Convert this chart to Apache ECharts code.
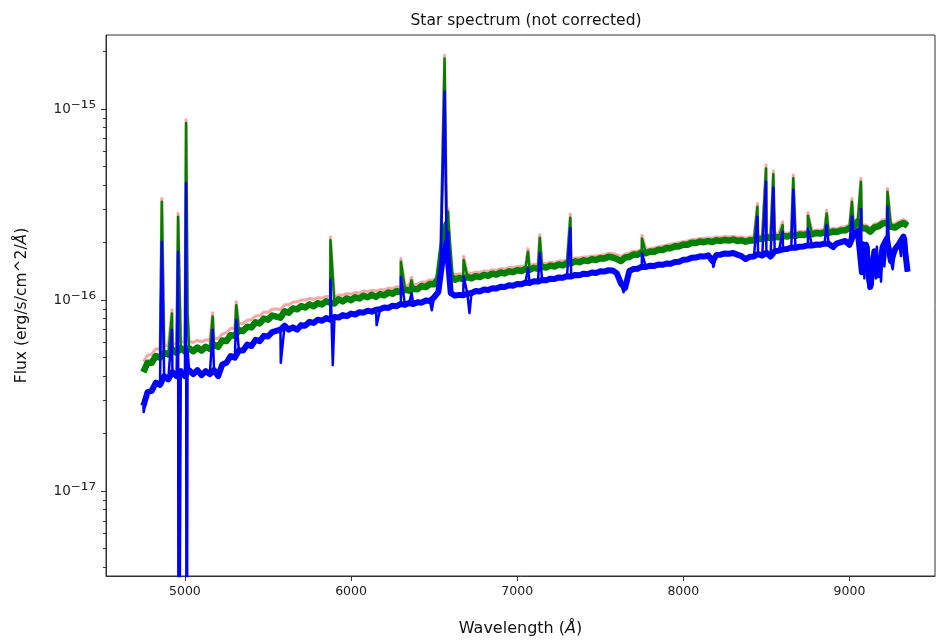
<!DOCTYPE html>
<html>
<head>
<meta charset="utf-8">
<script src="https://cdn.jsdelivr.net/npm/echarts@6/dist/echarts.min.js"></script>
<style>html,body{margin:0;padding:0;background:#fff}#c{width:937px;height:644px}</style>
</head>
<body>
<div id="c"></div>
<script>
// ---- data (flux in units of 1e-16 erg/s/cm^2/Å) ----
const UNIT = 1e-16;
const WL_START = 4750, WL_STEP = 25;   // sampling grid of the continuum arrays

const greenFlux = [
0.42,0.47,0.47,0.51,0.50,0.53,0.52,0.55,0.53,0.56,
0.54,0.56,0.54,0.565,0.545,0.57,0.555,0.585,0.57,0.615,
0.61,0.655,0.65,0.695,0.69,0.725,0.72,0.765,0.755,0.80,
0.79,0.83,0.82,0.81,0.875,0.86,0.905,0.895,0.93,0.915,
0.95,0.93,0.965,0.95,0.985,0.97,0.96,1.01,0.985,1.02,
1.00,1.035,1.02,1.055,1.035,1.065,1.04,1.075,1.06,1.095,
1.08,1.115,1.10,1.135,1.12,1.145,1.14,1.185,1.17,1.215,
1.21,1.29,1.90,2.50,1.33,1.28,1.305,1.29,1.325,1.30,
1.335,1.32,1.355,1.34,1.375,1.36,1.395,1.38,1.415,1.40,
1.435,1.42,1.455,1.44,1.475,1.46,1.495,1.48,1.515,1.50,
1.535,1.52,1.565,1.56,1.595,1.58,1.615,1.60,1.635,1.62,
1.655,1.65,1.685,1.67,1.64,1.60,1.67,1.68,1.735,1.73,
1.775,1.76,1.795,1.79,1.835,1.83,1.875,1.87,1.915,1.91,
1.955,1.95,1.995,1.99,2.025,2.01,2.035,2.015,2.055,2.04,
2.065,2.05,2.075,2.04,2.055,2.02,2.055,2.05,2.095,2.09,
2.135,2.11,2.145,2.13,2.165,2.15,2.185,2.17,2.205,2.19,
2.225,2.21,2.245,2.23,2.265,2.25,2.285,2.27,2.315,2.32,
2.38,2.43,2.57,2.38,2.37,2.28,2.40,2.43,2.52,2.53,
2.42,2.40,2.48,2.53,2.45];

const blueFlux = [
0.28,0.33,0.335,0.37,0.36,0.40,0.385,0.42,0.40,0.425,
0.40,0.43,0.41,0.43,0.405,0.425,0.41,0.43,0.40,0.46,
0.47,0.51,0.50,0.545,0.545,0.585,0.575,0.62,0.61,0.65,
0.645,0.68,0.69,0.70,0.735,0.70,0.72,0.70,0.74,0.735,
0.77,0.76,0.79,0.78,0.805,0.79,0.815,0.81,0.835,0.825,
0.85,0.84,0.865,0.86,0.88,0.87,0.89,0.895,0.915,0.91,
0.935,0.93,0.955,0.945,0.965,0.955,0.975,0.97,0.995,0.99,
1.035,1.10,1.60,2.00,1.09,1.055,1.065,1.06,1.08,1.09,
1.115,1.11,1.135,1.13,1.155,1.15,1.175,1.17,1.195,1.19,
1.215,1.21,1.235,1.23,1.255,1.25,1.275,1.27,1.295,1.29,
1.315,1.31,1.335,1.33,1.355,1.35,1.375,1.37,1.395,1.385,
1.415,1.41,1.435,1.43,1.38,1.22,1.16,1.42,1.455,1.46,
1.495,1.49,1.515,1.51,1.535,1.53,1.555,1.55,1.585,1.59,
1.625,1.63,1.665,1.67,1.695,1.69,1.715,1.60,1.725,1.73,
1.755,1.75,1.765,1.73,1.70,1.64,1.685,1.69,1.745,1.71,
1.77,1.69,1.80,1.815,1.845,1.85,1.885,1.88,1.905,1.91,
1.935,1.93,1.955,1.95,1.975,1.97,1.90,1.98,2.01,2.04,
1.95,2.20,2.30,1.40,1.95,1.17,1.80,1.35,1.90,2.10,
1.60,1.85,1.98,2.15,1.41];

const pinkFlux = [
0.475,0.515,0.52,0.555,0.555,0.58,0.575,0.595,0.59,0.61,
0.60,0.61,0.60,0.615,0.605,0.62,0.615,0.63,0.63,0.665,
0.675,0.71,0.715,0.75,0.755,0.785,0.79,0.825,0.83,0.865,
0.865,0.895,0.90,0.89,0.945,0.945,0.975,0.98,1.00,1.00,
1.02,1.01,1.03,1.025,1.045,1.04,1.03,1.065,1.06,1.08,
1.075,1.095,1.09,1.115,1.11,1.125,1.115,1.135,1.13,1.155,
1.15,1.175,1.17,1.195,1.19,1.205,1.21,1.245,1.245,1.275,
1.28,1.35,1.98,2.60,1.40,1.36,1.37,1.365,1.39,1.38,
1.40,1.395,1.42,1.415,1.44,1.435,1.46,1.455,1.48,1.475,
1.50,1.495,1.52,1.515,1.54,1.535,1.56,1.555,1.58,1.575,
1.60,1.60,1.63,1.64,1.66,1.66,1.68,1.68,1.70,1.70,
1.72,1.73,1.755,1.755,1.73,1.69,1.74,1.765,1.80,1.81,
1.84,1.845,1.86,1.88,1.90,1.92,1.94,1.96,1.98,2.00,
2.02,2.04,2.07,2.08,2.10,2.10,2.12,2.11,2.14,2.13,
2.15,2.14,2.16,2.13,2.14,2.11,2.14,2.14,2.18,2.18,
2.22,2.20,2.23,2.22,2.25,2.24,2.27,2.26,2.29,2.28,
2.31,2.30,2.33,2.32,2.35,2.34,2.37,2.36,2.41,2.42,
2.48,2.54,2.68,2.48,2.47,2.38,2.50,2.53,2.63,2.64,
2.52,2.50,2.59,2.64,2.56];

// emission lines (peak samples)
const lineWl    = [4861,4922,4959,5007,5016,5167,5309,5876,6300,6364,6540,6563,6584,6678,7065,7136,7320,7751,8446,8498,8542,8598,8662,8750,8863,9015,9069,9229];
const greenLine = [3.27,0.85,2.73,8.45,0.85,0.82,0.94,2.06,1.59,1.27,1.90,18.4,2.90,1.62,1.79,2.12,2.70,2.10,3.08,4.89,4.56,2.47,4.34,2.76,2.84,3.27,4.16,3.69];
const blueLine  = [2.02,0.70,1.79,4.10,0.55,0.70,0.79,1.28,1.32,1.09,1.60,12.3,2.28,1.33,1.47,1.76,2.38,1.76,2.73,4.16,3.89,2.28,3.77,2.37,2.47,2.75,3.00,3.08];
const pinkLine  = [3.40,0.89,2.84,8.79,0.89,0.86,0.98,2.14,1.65,1.32,1.98,19.1,3.02,1.69,1.86,2.20,2.81,2.18,3.20,5.09,4.74,2.57,4.51,2.87,2.95,3.40,4.33,3.84];

// extra samples of the blue spectrum (absorptions, noisy red end)
const blueExtraWl = [4752,4962,5010,5577,5890,6154,6486,6713,7640,8181,8905,9060,9085,9090,9110,9115,9130,9140,9160,9165,9185,9190,9210,9240,9260,9285,9310,9340];
const blueExtra   = [0.26,0.001,0.001,0.47,0.457,0.74,0.886,0.855,1.10,1.49,1.85,1.6,2.0,1.3,1.25,1.9,1.35,1.2,1.3,1.9,1.7,1.25,1.5,1.75,1.45,1.95,1.7,2.1];

const xTicks = [5000,6000,7000,8000,9000];
const yMajor = [1e-17,1e-16,1e-15];
const yMinor = [4e-18,5e-18,6e-18,7e-18,8e-18,9e-18,2e-17,3e-17,4e-17,5e-17,6e-17,7e-17,8e-17,9e-17,2e-16,3e-16,4e-16,5e-16,6e-16,7e-16,8e-16,9e-16,2e-15];

// ---- build series ----
function build(grid, extras) {
  const pts = grid.map((v, i) => [WL_START + i * WL_STEP, v * UNIT]);
  extras.forEach(([wl, vals]) => wl.forEach((w, i) => pts.push([w, vals[i] * UNIT])));
  pts.sort((a, b) => a[0] - b[0]);
  return pts;
}
const pinkData  = build(pinkFlux,  [[lineWl, pinkLine]]);
const greenBand = build(greenFlux, []);
const greenData = build(greenFlux, [[lineWl, greenLine]]);
const blueBand  = build(blueFlux, []);
const blueData  = build(blueFlux,  [[lineWl, blueLine], [blueExtraWl, blueExtra]]);

const SUPMAP = {'-':'⁻','0':'⁰','1':'¹','2':'²','3':'³','4':'⁴','5':'⁵','6':'⁶','7':'⁷','8':'⁸','9':'⁹'};
function supLabel(v) {
  const e = Math.round(Math.log10(v));
  const s = String(e).split('').map(c => SUPMAP[c]).join('');
  return '{b|10}{s|' + s + '}';
}

const FONT = 'DejaVu Sans';
const chart = echarts.init(document.getElementById('c'), null, {renderer: 'canvas'});
const yMin = 3.6e-18, yMax = 2.44e-15;
function lineSeries(name, data, color, width, z) {
  return {type: 'line', name, data, showSymbol: false, symbol: 'none', clip: true,
          lineStyle: {color, width, join: 'round'}, z};
}
chart.setOption({
  animation: false,
  backgroundColor: '#fff',
  textStyle: {fontFamily: FONT},
  title: {
    text: 'Star spectrum (not corrected)',
    left: 521, top: 8, textAlign: 'center',
    textStyle: {fontFamily: FONT, fontSize: 15.5, fontWeight: 'normal', color: '#111'}
  },
  grid: {left: 106, right: 2, top: 35, bottom: 68, show: true, borderColor: '#333', borderWidth: 1, outerBoundsMode: 'none', containLabel: false},
  xAxis: {
    type: 'value', min: 4525, max: 9515,
    name: 'Wavelength ({i|Å})', nameLocation: 'middle', nameGap: 45,
    nameTextStyle: {fontFamily: FONT, fontSize: 16, color: '#111', rich: {i: {fontFamily: FONT, fontSize: 16, fontStyle: 'italic', color: '#111'}}},
    axisLine: {lineStyle: {color: '#333', width: 1}},
    axisTick: {show: true, length: 5, lineStyle: {color: '#333'}, customValues: xTicks},
    axisLabel: {customValues: xTicks, formatter: v => String(v), fontFamily: FONT, fontSize: 12.5, color: '#222', margin: 9},
    splitLine: {show: false}
  },
  yAxis: [{
    type: 'log', logBase: 10, min: yMin, max: yMax, position: 'left',
    name: 'Flux (erg/s/cm^2/{i|Å})', nameLocation: 'middle', nameGap: 76, nameRotate: 90,
    nameTextStyle: {fontFamily: FONT, fontSize: 15.5, color: '#111', rich: {i: {fontFamily: FONT, fontSize: 15.5, fontStyle: 'italic', color: '#111'}}},
    axisLine: {show: true, lineStyle: {color: '#333', width: 1}},
    axisTick: {show: true, length: 5, lineStyle: {color: '#333'}, customValues: yMajor},
    axisLabel: {
      customValues: yMajor, margin: 10,
      formatter: supLabel,
      rich: {
        b: {fontFamily: FONT, fontSize: 13.5, color: '#222'},
        s: {fontFamily: FONT, fontSize: 19, color: '#222'}
      }
    },
    splitLine: {show: false}
  }, {
    type: 'log', logBase: 10, min: yMin, max: yMax, position: 'left',
    axisLine: {show: false},
    axisTick: {show: true, length: 3, lineStyle: {color: '#333'}, customValues: yMinor},
    axisLabel: {show: false},
    splitLine: {show: false}
  }],
  series: [
    lineSeries('err', pinkData, '#f6a8a8', 3, 1),
    lineSeries('flux band', greenBand, '#008000', 6.5, 2),
    lineSeries('flux', greenData, '#008000', 2.5, 3),
    lineSeries('corrected band', blueBand, '#0000ff', 6, 4),
    lineSeries('corrected', blueData, '#0000ff', 2.5, 5)
  ]
});
</script>
</body>
</html>
